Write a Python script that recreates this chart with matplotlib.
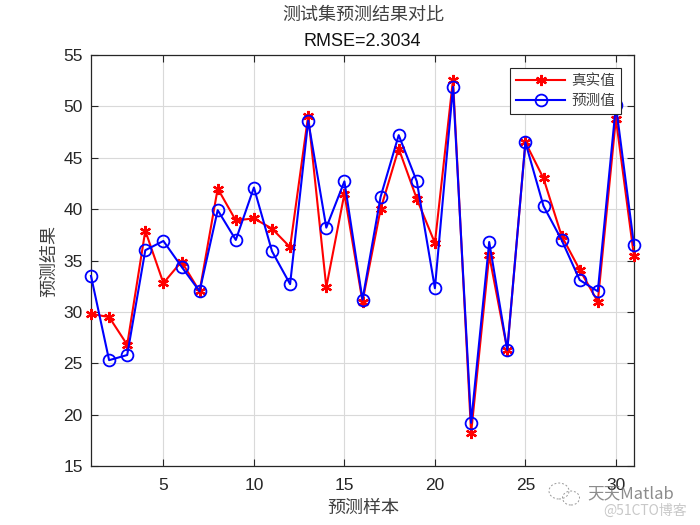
import matplotlib
matplotlib.use("Agg")
import matplotlib.pyplot as plt
from matplotlib.patches import Ellipse

samples = list(range(1, 32))
true_values = [29.8, 29.5, 26.8, 37.9, 32.8, 34.9, 32.0, 42.0, 38.9, 39.1, 38.1, 36.3, 49.1, 32.4, 41.5, 31.0,
               40.0, 45.9, 41.0, 36.7, 52.6, 18.2, 35.5, 26.3, 46.5, 43.0, 37.4, 34.1, 31.0, 48.8, 35.4]
pred_values = [33.5, 25.3, 25.8, 36.0, 36.9, 34.4, 32.0, 39.9, 37.0, 42.1, 35.9, 32.7, 48.6, 38.2, 42.7, 31.2,
               41.2, 47.2, 42.7, 32.3, 51.9, 19.2, 36.8, 26.3, 46.5, 40.3, 37.0, 33.1, 32.0, 50.1, 36.5]
x_ticks = [5, 10, 15, 20, 25, 30]
y_ticks = [15, 20, 25, 30, 35, 40, 45, 50, 55]

CJK = "Noto Sans CJK JP"
NUM = "Liberation Sans"
DARK = "#262626"

fig = plt.figure(figsize=(7, 5.25), dpi=100)
ax = fig.add_axes([91 / 700, 1 - 466 / 525, (634 - 91) / 700, (466 - 55) / 525])

ax.plot(samples, true_values, color="#ff0000", lw=1.5, marker=(6, 2, 0), ms=8, mew=1.6, label="真实值", clip_on=False, zorder=3)
ax.plot(samples, pred_values, color="#0000ff", lw=1.5, marker="o", ms=8.5, mew=1.3, mfc="none", label="预测值", clip_on=False, zorder=4)

ax.set_xlim(1, 31)
ax.set_ylim(15, 55)
ax.set_xticks(x_ticks)
ax.set_yticks(y_ticks)
ax.grid(True, color="#d9d9d9", lw=0.8)
ax.set_axisbelow(True)
ax.tick_params(direction="in", length=5, width=0.8, color=DARK, labelcolor=DARK, top=True, right=True, labelsize=12.5)
ax.tick_params(axis="x", pad=9)
ax.tick_params(axis="y", pad=6)
for lab in ax.get_xticklabels() + ax.get_yticklabels():
    lab.set_fontfamily(NUM)
for s in ax.spines.values():
    s.set_color(DARK)
    s.set_linewidth(0.9)

fig.text(363 / 700, 1 - 508 / 525, "预测样本", fontfamily=CJK, fontsize=13, color="#404040", ha="center", va="center")
fig.text(49 / 700, 1 - 261 / 525, "预测结果", fontfamily=CJK, fontsize=13, color="#404040", ha="center", va="center", rotation=90)
fig.text(363 / 700, 1 - 15 / 525, "测试集预测结果对比", fontfamily=CJK, fontsize=13, color="#404040", ha="center", va="center")
fig.text(362 / 700, 1 - 41 / 525, "RMSE=2.3034", fontfamily=NUM, fontsize=13, color="#111111", ha="center", va="center")

leg = ax.legend(loc="upper right", bbox_to_anchor=(621 / 700, 1 - 68 / 525), bbox_transform=fig.transFigure,
                prop={"family": CJK, "size": 10.5}, fancybox=False, framealpha=1, edgecolor=DARK,
                borderaxespad=0, borderpad=0.42, labelspacing=0.4, handlelength=3.35, handletextpad=0.4)
leg.get_frame().set_linewidth(0.8)
leg.set_zorder(10)
for t in leg.get_texts():
    t.set_color("#404040")

# watermark
for (cx, cy, w, h) in [(559, 491, 20, 16), (571, 498, 17, 14)]:
    fig.add_artist(Ellipse((cx / 700, 1 - cy / 525), w / 700, h / 525, transform=fig.transFigure,
                           fill=False, ec="#9a9a9a", lw=0.7, ls=(0, (2, 2))))
fig.text(587 / 700, 1 - 494 / 525, "天天Matlab", fontfamily=CJK, fontsize=12, color="#707070", ha="left", va="center", alpha=0.8)
fig.text(603 / 700, 1 - 511 / 525, "@51CTO博客", fontfamily=CJK, fontsize=10, color="#c8c8c8", ha="left", va="center")

fig.savefig("out.png", dpi=100)
